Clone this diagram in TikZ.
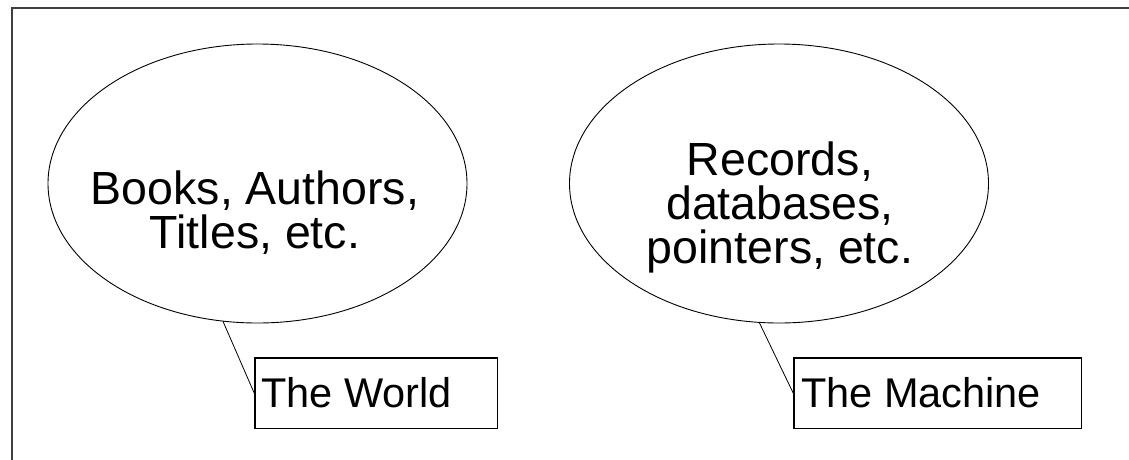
\documentclass[tikz,border=0pt]{standalone}
\usepackage{fontspec}
\setmainfont{Liberation Sans}
\usetikzlibrary{shapes.geometric}
\begin{document}
\begin{tikzpicture}[x=1pt,y=-1pt,
  bubble/.style={ellipse, draw=black, line width=0.9pt, minimum width=419pt, minimum height=279pt, inner sep=0pt},
  bubbletext/.style={font=\fontsize{46.5}{44}\selectfont, align=center, inner sep=0pt, anchor=base},
  callbox/.style={draw=black, line width=1.3pt, minimum height=70.7pt, inner sep=0pt, anchor=north west},
  calltext/.style={font=\fontsize{41.5}{44}\selectfont, inner sep=0pt, anchor=base west},
  leader/.style={line width=0.8pt},
  frame/.style={draw=black!75, line width=2pt}]
\useasboundingbox (0,0) rectangle (1129,459);
\draw[frame] (12,470) -- (12,8) -- (1140,8);
\node[bubble] (world) at (257.5,183.5) {};
\node[bubble] (machine) at (779,183.5) {};
\node[bubbletext] (worldtext) at (255,248) {Books, Authors,\\Titles, etc.};
\node[bubbletext] (machinetext) at (780,263) {Records,\\databases,\\pointers, etc.};
\node[callbox, minimum width=242.4pt] (worldbox) at (254.3,357.3) {};
\node[callbox, minimum width=287.7pt] (machinebox) at (793.3,357.3) {};
\node[calltext] (worldlabel) at (261,407) {The World};
\node[calltext] (machinelabel) at (801,407) {The Machine};
\draw[leader] (world.256.5) -- (worldbox.west);
\draw[leader] (machine.262.9) -- (machinebox.west);
\end{tikzpicture}
\end{document}
